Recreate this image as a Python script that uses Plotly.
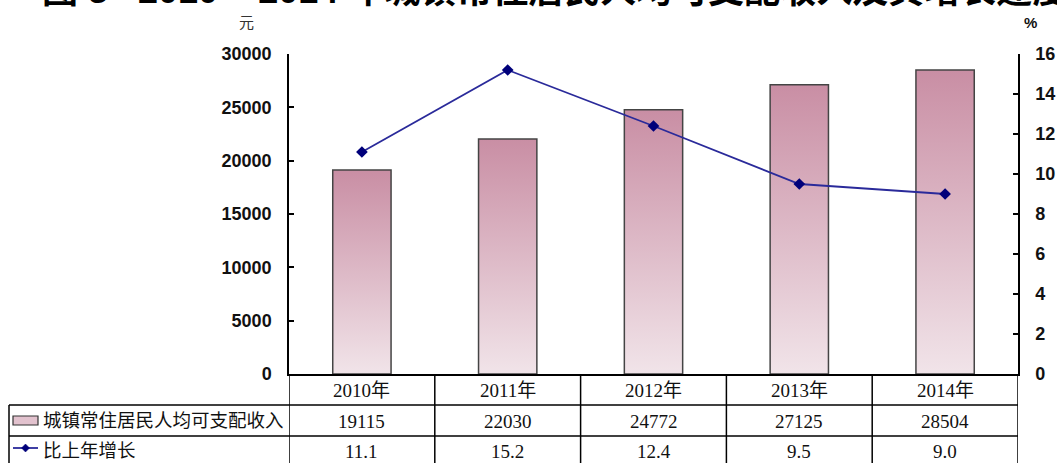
import plotly.graph_objects as go

# ---- data ----
years = ["2010年", "2011年", "2012年", "2013年", "2014年"]
income = [19115, 22030, 24772, 27125, 28504]
growth = [11.1, 15.2, 12.4, 9.5, 9.0]
growth_labels = ["11.1", "15.2", "12.4", "9.5", "9.0"]
series_names = ["城镇常住居民人均可支配收入", "比上年增长"]
title_text = "图\u00a03\u00a0\u00a0\u00a02010\u00a0–\u00a02014\u00a0年城镇常住居民人均可支配收入及其增长速度"

W, H = 1057, 463
L, R, T, B = 289, 1018, 54, 374
PW, PH = R - L, B - T


def px_x(px):
    return (px - L) / PW


def px_y(py):
    return (B - py) / PH


BAR_HALF = 0.2
LINE_COLOR = "#2A2A9A"
MARK_COLOR = "#00007A"
TABLE_FONT = dict(family="Liberation Serif, Noto Sans CJK SC", size=19, color="#111111")
LABEL_FONT = dict(family="Liberation Serif, Noto Sans CJK SC", size=18.5, color="#111111")

fig = go.Figure()

# bars with vertical gradient fill
for i, v in enumerate(income):
    fig.add_trace(go.Scatter(
        x=[i - BAR_HALF, i + BAR_HALF, i + BAR_HALF, i - BAR_HALF, i - BAR_HALF],
        y=[0, 0, v, v, 0],
        mode="lines",
        fill="toself",
        fillgradient=dict(type="vertical",
                          colorscale=[[0, "#F1E4E9"], [1, "#C98EA4"]]),
        line=dict(color="#444444", width=1.5),
        showlegend=False,
        hoverinfo="skip",
        xaxis="x", yaxis="y",
    ))

# growth line
fig.add_trace(go.Scatter(
    x=list(range(len(years))),
    y=growth,
    mode="lines+markers",
    line=dict(color=LINE_COLOR, width=1.8),
    marker=dict(symbol="diamond", size=9, color=MARK_COLOR),
    showlegend=False,
    xaxis="x", yaxis="y2",
    name=series_names[1],
))

n = len(years)
tickfont = dict(family="Liberation Sans, Arial", size=18, color="#111111", weight="bold")
fig.update_layout(
    width=W, height=H, autosize=False,
    margin=dict(l=L, r=W - R, t=T, b=H - B, pad=0, autoexpand=False),
    paper_bgcolor="white", plot_bgcolor="white",
    showlegend=False,
    xaxis=dict(range=[-0.5, n - 0.5], showticklabels=False, ticks="",
               showgrid=False, zeroline=False, showline=True,
               linecolor="black", linewidth=1.5, automargin=False),
    yaxis=dict(range=[0, 30000], dtick=5000, tickformat="d",
               ticks="inside", ticklen=5,
               tickwidth=1.5, tickcolor="black",
               showline=True, linecolor="black", linewidth=1.5,
               showgrid=False, zeroline=False, automargin=False,
               tickfont=tickfont, ticklabelstandoff=12),
    yaxis2=dict(range=[0, 16], dtick=2, ticks="inside", ticklen=5,
                tickwidth=1.5, tickcolor="black", overlaying="y", side="right",
                showline=True, linecolor="black", linewidth=1.5,
                showgrid=False, zeroline=False, automargin=False,
                tickfont=tickfont, ticklabelstandoff=12),
)

shapes = []
ann = []

bottom_px = 475

# vertical column lines
for k in range(n + 1):
    shapes.append(dict(type="line", xref="x", yref="paper",
                       x0=k - 0.5, x1=k - 0.5,
                       y0=px_y(374), y1=px_y(bottom_px),
                       line=dict(color="black", width=1.5)))
# label column left edge
shapes.append(dict(type="line", xref="paper", yref="paper",
                   x0=px_x(9), x1=px_x(9), y0=px_y(405), y1=px_y(bottom_px),
                   line=dict(color="black", width=1.5)))
# horizontal row lines
for ry in [405, 436]:
    shapes.append(dict(type="line", xref="paper", yref="paper",
                       x0=px_x(9), x1=1, y0=px_y(ry), y1=px_y(ry),
                       line=dict(color="black", width=1.5)))

# table cells
for i, y in enumerate(years):
    ann.append(dict(x=i, y=px_y(390), xref="x", yref="paper", text=y,
                    showarrow=False, font=TABLE_FONT,
                    xanchor="center", yanchor="middle"))
    ann.append(dict(x=i, y=px_y(421), xref="x", yref="paper", text=str(income[i]),
                    showarrow=False, font=TABLE_FONT,
                    xanchor="center", yanchor="middle"))
    ann.append(dict(x=i, y=px_y(451), xref="x", yref="paper", text=growth_labels[i],
                    showarrow=False, font=TABLE_FONT,
                    xanchor="center", yanchor="middle"))

# legend keys in the label column
shapes.append(dict(type="rect", xref="paper", yref="paper",
                   x0=px_x(13), x1=px_x(38), y0=px_y(425), y1=px_y(416),
                   fillcolor="#E2C2CE", line=dict(color="#333333", width=1.2)))
shapes.append(dict(type="line", xref="paper", yref="paper",
                   x0=px_x(13), x1=px_x(38), y0=px_y(448), y1=px_y(448),
                   line=dict(color=LINE_COLOR, width=1.8)))
dx, dy = 4, 4
shapes.append(dict(type="path", xref="paper", yref="paper",
                   path=f"M {px_x(25.5-dx)} {px_y(448)} L {px_x(25.5)} {px_y(448-dy)} "
                        f"L {px_x(25.5+dx)} {px_y(448)} L {px_x(25.5)} {px_y(448+dy)} Z",
                   fillcolor=MARK_COLOR, line=dict(color=MARK_COLOR, width=0.5)))

ann.append(dict(x=px_x(41), y=px_y(421), xref="paper", yref="paper",
                text=series_names[0], showarrow=False, font=LABEL_FONT,
                xanchor="left", yanchor="middle"))
ann.append(dict(x=px_x(41), y=px_y(451), xref="paper", yref="paper",
                text=series_names[1], showarrow=False, font=LABEL_FONT,
                xanchor="left", yanchor="middle"))

# unit labels
ann.append(dict(x=px_x(246), y=px_y(23), xref="paper", yref="paper", text="元",
                showarrow=False, font=dict(family="Liberation Serif, Noto Sans CJK SC",
                                           size=15, color="#333333"),
                xanchor="center", yanchor="middle"))
ann.append(dict(x=px_x(1030), y=px_y(23), xref="paper", yref="paper", text="%",
                showarrow=False, font=dict(family="Liberation Sans, Arial", size=15,
                                           color="#111111", weight="bold"),
                xanchor="center", yanchor="middle"))

# title (clipped at the top in the reference)
ann.append(dict(x=px_x(40), y=px_y(13), xref="paper", yref="paper", text=title_text,
                showarrow=False,
                font=dict(family="Liberation Sans, Noto Sans CJK SC", size=36,
                          color="black", weight="bold"),
                xanchor="left", yanchor="bottom"))

fig.update_layout(shapes=shapes, annotations=ann)
fig.write_html("out.html", config={"displayModeBar": False},
               post_script="document.body.style.margin='0';document.body.style.padding='0';")
